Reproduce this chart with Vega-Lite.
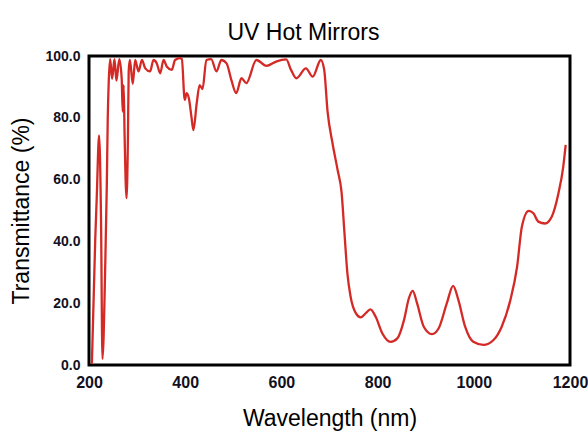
{
  "$schema": "https://vega.github.io/schema/vega-lite/v6.json",
  "width": 481,
  "height": 309,
  "autosize": {"type": "none"},
  "padding": {"left": 89, "top": 56, "right": 18, "bottom": 75},
  "background": "white",
  "title": {
    "text": "UV Hot Mirrors",
    "font": "Liberation Sans",
    "fontSize": 23,
    "fontWeight": "normal",
    "color": "#000000",
    "anchor": "middle",
    "dx": -26,
    "offset": 4
  },
  "config": {
    "view": {"stroke": "#000000", "strokeWidth": 3},
    "axis": {
      "domain": false,
      "ticks": false,
      "tickSize": 0,
      "grid": false,
      "labelFlush": false,
      "labelOverlap": false,
      "labelFont": "Liberation Sans",
      "labelFontWeight": "bold",
      "labelColor": "#111122",
      "titleFont": "Liberation Sans",
      "titleFontWeight": "normal",
      "titleColor": "#000000"
    }
  },
  "data": {
    "values": [
      {"wl": 206, "t": 0.4}, {"wl": 213, "t": 40.8}, {"wl": 216, "t": 53.8}, {"wl": 221, "t": 74.3},
      {"wl": 225, "t": 47}, {"wl": 228, "t": 2}, {"wl": 234, "t": 34}, {"wl": 237, "t": 58},
      {"wl": 239, "t": 80}, {"wl": 241, "t": 91.6}, {"wl": 244, "t": 99}, {"wl": 248, "t": 92.6},
      {"wl": 253, "t": 99}, {"wl": 257, "t": 92}, {"wl": 263, "t": 99}, {"wl": 268, "t": 92.6},
      {"wl": 270, "t": 82}, {"wl": 272, "t": 90.6}, {"wl": 274, "t": 74.4}, {"wl": 278, "t": 54},
      {"wl": 281, "t": 74.4}, {"wl": 282.5, "t": 95}, {"wl": 285, "t": 98.7}, {"wl": 291, "t": 91},
      {"wl": 296, "t": 98.7}, {"wl": 303, "t": 95}, {"wl": 310, "t": 98.7}, {"wl": 317, "t": 96},
      {"wl": 327, "t": 95}, {"wl": 334, "t": 98.7}, {"wl": 341, "t": 97.6}, {"wl": 348, "t": 94.4},
      {"wl": 355, "t": 98.7}, {"wl": 362, "t": 96.5}, {"wl": 372, "t": 95.5}, {"wl": 379, "t": 98.7},
      {"wl": 389, "t": 99.3}, {"wl": 393, "t": 99}, {"wl": 399, "t": 85.8}, {"wl": 403, "t": 88},
      {"wl": 408, "t": 86}, {"wl": 413, "t": 80.3}, {"wl": 417, "t": 76}, {"wl": 424, "t": 84.8},
      {"wl": 430, "t": 90.6}, {"wl": 436, "t": 89.3}, {"wl": 444, "t": 98.7}, {"wl": 454, "t": 99},
      {"wl": 465, "t": 95}, {"wl": 475, "t": 98.7}, {"wl": 486, "t": 97.6}, {"wl": 496, "t": 92.2},
      {"wl": 506, "t": 88}, {"wl": 517, "t": 92.8}, {"wl": 527, "t": 91.2}, {"wl": 548, "t": 98.7},
      {"wl": 569, "t": 96.8}, {"wl": 589, "t": 98.2}, {"wl": 610, "t": 98.9}, {"wl": 620, "t": 95.5},
      {"wl": 631, "t": 92.8}, {"wl": 651, "t": 96}, {"wl": 665, "t": 93.3}, {"wl": 682, "t": 98.7},
      {"wl": 689, "t": 95.5}, {"wl": 696, "t": 82}, {"wl": 706, "t": 72}, {"wl": 717, "t": 63},
      {"wl": 725, "t": 56}, {"wl": 731, "t": 43}, {"wl": 737, "t": 30}, {"wl": 744, "t": 22},
      {"wl": 755, "t": 16.7}, {"wl": 765, "t": 15.4}, {"wl": 775, "t": 16.7}, {"wl": 785, "t": 18},
      {"wl": 796, "t": 15.6}, {"wl": 810, "t": 10.2}, {"wl": 827, "t": 7.5}, {"wl": 841, "t": 8.6},
      {"wl": 855, "t": 14.6}, {"wl": 865, "t": 21.6}, {"wl": 873, "t": 24}, {"wl": 882, "t": 20},
      {"wl": 896, "t": 12.4}, {"wl": 913, "t": 10}, {"wl": 927, "t": 11.9}, {"wl": 944, "t": 20},
      {"wl": 957, "t": 25.6}, {"wl": 968, "t": 21}, {"wl": 982, "t": 12.4}, {"wl": 999, "t": 7.5},
      {"wl": 1020, "t": 6.5}, {"wl": 1041, "t": 8.1}, {"wl": 1058, "t": 12.4}, {"wl": 1076, "t": 21},
      {"wl": 1090, "t": 31.8}, {"wl": 1100, "t": 44.8}, {"wl": 1114, "t": 49.9}, {"wl": 1124, "t": 49.1},
      {"wl": 1134, "t": 46.4}, {"wl": 1148, "t": 45.8}, {"wl": 1162, "t": 48}, {"wl": 1176, "t": 55.6},
      {"wl": 1186, "t": 64.2}, {"wl": 1191, "t": 71.2}
    ]
  },
  "mark": {"type": "line", "color": "#d42a26", "strokeWidth": 2.3, "interpolate": "monotone", "clip": true},
  "encoding": {
    "x": {
      "field": "wl",
      "type": "quantitative",
      "scale": {"domain": [200, 1200], "nice": false, "zero": false},
      "axis": {
        "title": "Wavelength (nm)",
        "values": [200, 400, 600, 800, 1000, 1200],
        "format": "d",
        "labelFontSize": 16,
        "labelPadding": 9,
        "titleFontSize": 23,
        "titlePadding": 17
      }
    },
    "y": {
      "field": "t",
      "type": "quantitative",
      "scale": {"domain": [0, 100], "nice": false},
      "axis": {
        "title": "Transmittance (%)",
        "values": [0, 20, 40, 60, 80, 100],
        "format": ".1f",
        "labelFontSize": 14,
        "labelPadding": 9,
        "titleFontSize": 23,
        "titlePadding": 11
      }
    }
  }
}
